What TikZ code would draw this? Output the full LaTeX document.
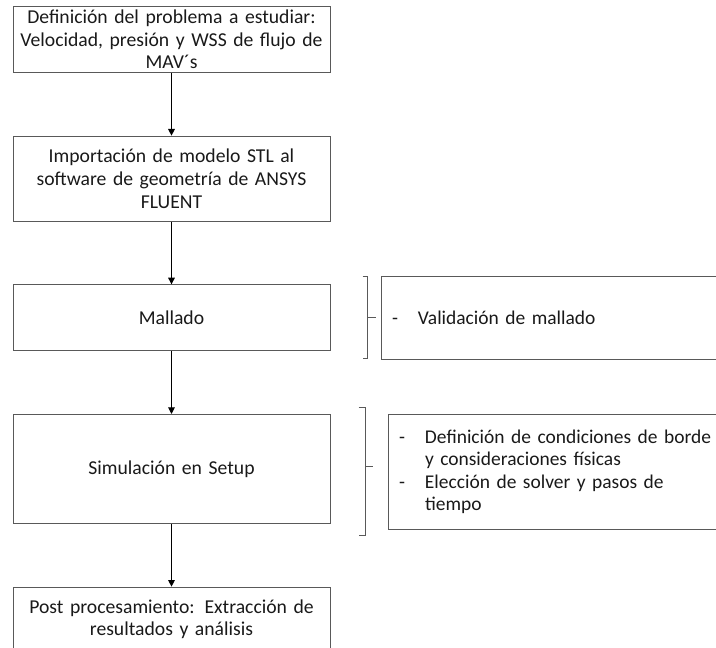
\documentclass[tikz,border=0pt]{standalone}
\usepackage{fontspec}
\setmainfont{Carlito}
\usetikzlibrary{positioning,arrows.meta}

\begin{document}
\begin{tikzpicture}[x=0.75pt, y=-0.75pt, node distance = {47pt}, line width=0.75pt,
	main/.style = {draw=black!65, rectangle, text width=228pt, inner xsep=4.875pt, inner ysep=0pt, align=center, text=black!90, font=\fontsize{14.75pt}{17pt}\selectfont},
	side/.style = {draw=black!65, rectangle, text width=253.5pt, inner xsep=8.25pt, inner ysep=0pt, align=left, text=black!90, font=\fontsize{14.6pt}{16.9pt}\selectfont},
	arr/.style = {-{Triangle[width=5pt,length=5pt]}}]
			\useasboundingbox (0,0) rectangle (716,648);
			\clip (0,0) rectangle (716,648);
			
			\node[main, minimum height=49.5pt, anchor=north] (1) at (171.5,6) {Definición del problema a estudiar:\\ Velocidad, presión y WSS de flujo de\\ MAV´s};
			\node[main, minimum height=63.75pt] (2) [below=of 1] {Importación de modelo STL al\\ software de geometría de ANSYS\\ FLUENT};
			\node[main, minimum height=49.5pt] (3) [below=of 2] {Mallado};
			\node[main, minimum height=81.75pt] (4) [below=of 3] {Simulación en Setup};
			\node[main, minimum height=48pt] (5) [below=of 4] {Post procesamiento: Extracción de\\ resultados y análisis};
			
			\node[side, minimum height=62.25pt] (6) [right=37.5pt of 3] {\makebox[19.5pt][l]{-}Validación de mallado};
			\node[side, minimum height=86.25pt] (7) [right=42.75pt of 4, yshift=-2.25pt] {\makebox[19.5pt][l]{-}Definición de condiciones de borde\\ \hspace*{19.5pt}y consideraciones físicas\\ \makebox[19.5pt][l]{-}Elección de solver y pasos de\\ \hspace*{19.5pt}tiempo};
			
			\draw[arr] (1) -- (2);
			\draw[arr] (2) -- (3);
			\draw[arr] (3) -- (4);
			\draw[arr] (4) -- (5);
			
			% brackets
			\draw[black!65] ([shift={(-13.5pt,-0.75pt)}]6.north west) -- ++(3.75pt,0) |- ([shift={(-13.5pt,0.75pt)}]6.south west);
			\draw[black!65] ([xshift=-9.75pt]6.west) -- ++(6pt,0);
			\draw[black!65] ([shift={(-21.75pt,5.25pt)}]7.north west) -- ++(5.25pt,0) |- ([shift={(-21.75pt,-3.75pt)}]7.south west);
			\draw[black!65] ([shift={(-16.5pt,4pt)}]7.west) -- ++(5.25pt,0);
		\end{tikzpicture}
\end{document}
